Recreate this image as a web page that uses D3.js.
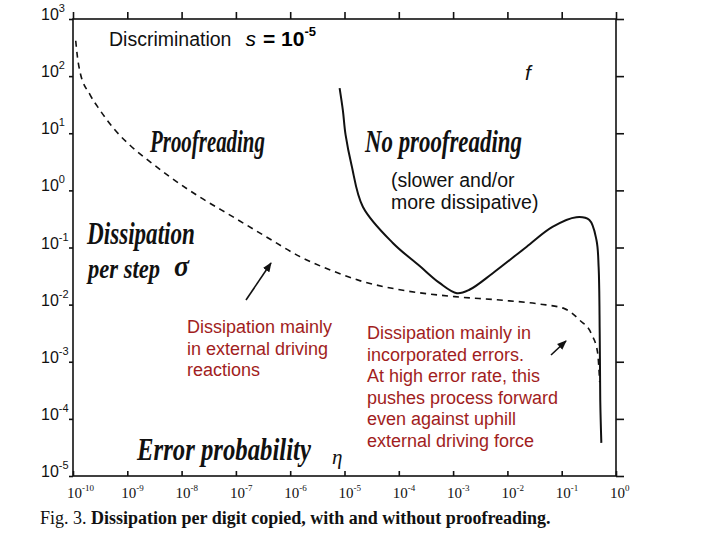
<!DOCTYPE html>
<html>
<head>
<meta charset="utf-8">
<script src="https://cdn.jsdelivr.net/npm/d3@7"></script>
<style>
  body { margin: 0; background: #fff; }
  svg { display: block; }
  .tick-label { font-family: "Liberation Sans", Arial, sans-serif; font-size: 16px; fill: #111; }
  .xlab { font-family: "Liberation Serif", serif; font-size: 15px; fill: #111; }
  .hand { font-family: "Liberation Serif", serif; font-style: italic; font-weight: bold; fill: #111; }
  .note { font-family: "Liberation Sans", Arial, sans-serif; font-size: 19.5px; fill: #111; }
  .red { font-family: "Liberation Sans", Arial, sans-serif; font-size: 18px; fill: #a11d21; }
</style>
</head>
<body>
<div id="chart"></div>
<script>
// axis ticks (log10 exponents)
var xTickExp = [-10, -9, -8, -7, -6, -5, -4, -3, -2, -1, 0];
var yTickExp = [3, 2, 1, 0, -1, -2, -3, -4, -5];

// proofreading curve (dashed): log10 eta, log10 sigma
var proofLogEta = [-9.95, -9.92, -9.87, -9.69, -9.50, -9.23, -8.95, -8.58, -8.22, -7.66, -7.06, -6.43, -5.82, -5.22, -4.72, -3.98, -2.97, -2.14, -1.41, -0.95, -0.67, -0.45, -0.34, -0.30];
var proofLogSigma = [2.62, 2.35, 2.07, 1.68, 1.40, 1.06, 0.79, 0.50, 0.24, -0.12, -0.46, -0.82, -1.16, -1.41, -1.58, -1.74, -1.86, -1.92, -1.99, -2.07, -2.27, -2.52, -2.83, -3.36];

// no proofreading curve (solid)
var noProofLogEta = [-5.09, -5.03, -4.98, -4.87, -4.66, -4.11, -3.62, -3.25, -2.93, -2.70, -2.27, -1.65, -1.17, -0.73, -0.49, -0.36, -0.32, -0.30, -0.29, -0.27];
var noProofLogSigma = [1.79, 1.40, 0.97, 0.44, -0.29, -0.92, -1.32, -1.62, -1.80, -1.74, -1.45, -0.99, -0.64, -0.47, -0.52, -0.87, -1.34, -2.50, -3.67, -4.42];

var width = 720, height = 540;
var plot = { left: 73, right: 616, top: 19, bottom: 476 };

var svg = d3.select("#chart").append("svg")
    .attr("width", width)
    .attr("height", height);

var x = d3.scaleLog().domain([1e-10, 1]).range([plot.left, plot.right]);
var y = d3.scaleLog().domain([1e-5, 1e3]).range([plot.bottom, plot.top]);

// frame
svg.append("rect")
    .attr("x", plot.left).attr("y", plot.top)
    .attr("width", plot.right - plot.left).attr("height", plot.bottom - plot.top)
    .style("fill", "none").style("stroke", "#111").style("stroke-width", 1.6);

var xVals = xTickExp.map(function(e) { return Math.pow(10, e); });
var yVals = yTickExp.map(function(e) { return Math.pow(10, e); });

// ticks: top outward, bottom inward, left inward, right outward
svg.append("g").attr("transform", "translate(0," + plot.top + ")")
    .call(d3.axisTop(x).tickValues(xVals).tickSize(7).tickFormat(""))
    .call(function(g) { g.select(".domain").remove(); });
svg.append("g").attr("transform", "translate(0," + plot.bottom + ")")
    .call(d3.axisTop(x).tickValues(xVals).tickSize(5).tickFormat(""))
    .call(function(g) { g.select(".domain").remove(); });
svg.append("g").attr("transform", "translate(" + plot.left + ",0)")
    .call(d3.axisRight(y).tickValues(yVals).tickSize(-4).tickFormat(""))
    .call(function(g) { g.select(".domain").remove(); });
svg.append("g").attr("transform", "translate(" + plot.right + ",0)")
    .call(d3.axisRight(y).tickValues(yVals).tickSize(8).tickFormat(""))
    .call(function(g) { g.select(".domain").remove(); });
svg.selectAll(".tick line").style("stroke", "#111").style("stroke-width", 1.6);

// y tick labels
var yl = svg.selectAll(".ylab").data(yTickExp).enter().append("text")
    .attr("class", "tick-label")
    .attr("x", 41)
    .attr("y", function(d) { return y(Math.pow(10, d)) + 1; });
yl.append("tspan").text("10");
yl.append("tspan").attr("dy", -8).style("font-size", "11px").text(function(d) { return d; });

// x tick labels
var xl = svg.selectAll(".xlab").data(xTickExp).enter().append("text")
    .attr("class", "xlab")
    .attr("x", function(d) { return x(Math.pow(10, d)) - 6; })
    .attr("y", 498);
xl.append("tspan").text("10");
xl.append("tspan").attr("dy", -7).style("font-size", "9px").text(function(d) { return d; });

// curves
var px = function(d) { return x(Math.pow(10, d[0])); };
var py = function(d) { return y(Math.pow(10, d[1])); };

svg.append("path")
    .datum(d3.zip(proofLogEta, proofLogSigma))
    .attr("d", d3.line().x(px).y(py).curve(d3.curveMonotoneX))
    .style("fill", "none").style("stroke", "#111")
    .style("stroke-width", 1.6).style("stroke-dasharray", "6,5");

svg.append("path")
    .datum(d3.zip(noProofLogEta, noProofLogSigma))
    .attr("d", d3.line().x(px).y(py).curve(d3.curveCatmullRom.alpha(0.5)))
    .style("fill", "none").style("stroke", "#111")
    .style("stroke-width", 2);

// arrow marker
svg.append("defs").append("marker")
    .attr("id", "arr").attr("viewBox", "0 0 10 10")
    .attr("refX", 9).attr("refY", 5)
    .attr("markerWidth", 6).attr("markerHeight", 6)
    .attr("orient", "auto")
    .append("path").attr("d", "M0,1 L10,5 L0,9 Z").style("fill", "#111");

svg.append("line").attr("x1", 246).attr("y1", 300).attr("x2", 271).attr("y2", 263)
    .style("stroke", "#111").style("stroke-width", 1.6).attr("marker-end", "url(#arr)");
svg.append("line").attr("x1", 551).attr("y1", 355).attr("x2", 566).attr("y2", 341)
    .style("stroke", "#111").style("stroke-width", 1.6).attr("marker-end", "url(#arr)");

// title text
var title = svg.append("text").attr("x", 109).attr("y", 46);
title.append("tspan").attr("class", "note").text("Discrimination");
title.append("tspan").attr("dx", 14).style("font-family", "Liberation Sans, sans-serif")
    .style("font-style", "italic").style("font-size", "21px").text("s");
title.append("tspan").attr("dx", 7).style("font-family", "Liberation Sans, sans-serif")
    .style("font-weight", "bold").style("font-size", "21px").text("= 10");
title.append("tspan").attr("dy", -10).style("font-family", "Liberation Sans, sans-serif")
    .style("font-weight", "bold").style("font-size", "13px").text("-5");

svg.append("text").attr("x", 525).attr("y", 80)
    .style("font-family", "Liberation Sans, sans-serif").style("font-style", "italic")
    .style("font-size", "21px").style("fill", "#111").text("f");

// handwritten labels: squeeze horizontally with a transform so the box stays true
function hand(txt, hx, hy, size, len) {
    var t = svg.append("text").attr("class", "hand")
        .style("font-size", size + "px")
        .text(txt);
    var natural = t.node().getComputedTextLength();
    t.attr("transform", "translate(" + hx + "," + hy + ") scale(" + (len / natural) + ",1)");
}
hand("Proofreading", 150, 152, 32, 115);
hand("No proofreading", 365, 152, 32, 157);
hand("Dissipation", 87, 244, 31, 108);
hand("per step", 88, 278, 27, 72);
hand("\u03c3", 174, 276, 30, 15);
hand("Error probability", 137, 460, 32, 174);
svg.append("text").attr("x", 332).attr("y", 464)
    .style("font-family", "Liberation Serif, serif").style("font-style", "italic")
    .style("font-size", "21px").style("fill", "#111").text("\u03b7");

svg.append("text").attr("class", "note").attr("x", 391).attr("y", 187).text("(slower and/or");
svg.append("text").attr("class", "note").attr("x", 391).attr("y", 209).text("more dissipative)");

// red annotations
var leftNote = ["Dissipation mainly", "in external driving", "reactions"];
var rightNote = ["Dissipation mainly in", "incorporated errors.", "At high error rate, this",
                 "pushes process forward", "even against uphill", "external driving force"];
svg.selectAll(".ln").data(leftNote).enter().append("text")
    .attr("class", "red").attr("x", 187)
    .attr("y", function(d, i) { return 333 + i * 21.5; })
    .text(String);
svg.selectAll(".rn").data(rightNote).enter().append("text")
    .attr("class", "red").attr("x", 367)
    .attr("y", function(d, i) { return 339 + i * 21.5; })
    .text(String);

// caption
var cap = svg.append("text").attr("x", 40).attr("y", 524)
    .style("font-family", "Liberation Serif, serif").style("font-size", "18px").style("fill", "#111");
cap.append("tspan").text("Fig. 3. ");
cap.append("tspan").style("font-weight", "bold").text("Dissipation per digit copied, with and without proofreading.");
</script>
</body>
</html>
